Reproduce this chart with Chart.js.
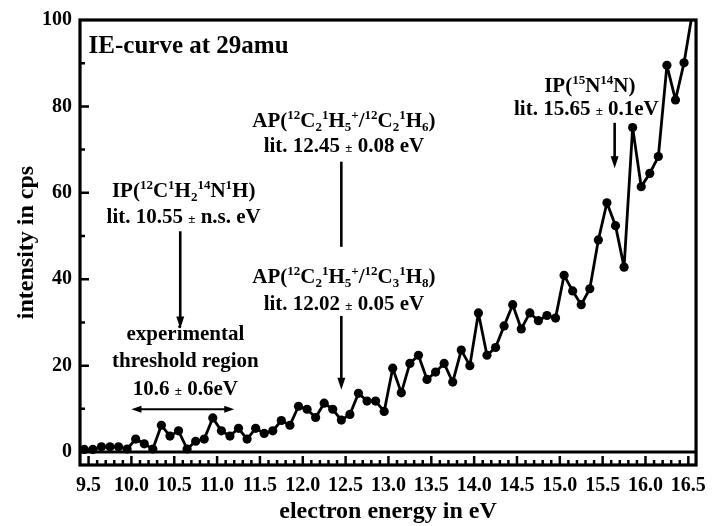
<!DOCTYPE html>
<html>
<head>
<meta charset="utf-8">
<script src="https://cdn.jsdelivr.net/npm/chart.js@4.4.0/dist/chart.umd.min.js"></script>
<style>
  html, body { margin: 0; padding: 0; background: #fff; }
  #wrap { width: 715px; height: 526px; }
</style>
</head>
<body>
<div id="wrap"><canvas id="ieChart" width="715" height="526"></canvas></div>
<script>
const energy = [
  9.45, 9.55, 9.65, 9.75, 9.85, 9.95, 10.05, 10.15, 10.25, 10.35,
  10.45, 10.55, 10.65, 10.75, 10.85, 10.95, 11.05, 11.15, 11.25, 11.35,
  11.45, 11.55, 11.65, 11.75, 11.85, 11.95, 12.05, 12.15, 12.25, 12.35,
  12.45, 12.55, 12.65, 12.75, 12.85, 12.95, 13.05, 13.15, 13.25, 13.35,
  13.45, 13.55, 13.65, 13.75, 13.85, 13.95, 14.05, 14.15, 14.25, 14.35,
  14.45, 14.55, 14.65, 14.75, 14.85, 14.95, 15.05, 15.15, 15.25, 15.35,
  15.45, 15.55, 15.65, 15.75, 15.85, 15.95, 16.05, 16.15, 16.25, 16.35,
  16.45, 16.55
];
const intensity = [
  0.6, 0.6, 1.2, 1.2, 1.2, 0.7, 3.0, 1.9, 0.7, 6.2,
  3.7, 4.9, 0.7, 2.5, 3.0, 7.9, 4.9, 3.7, 5.5, 3.0,
  5.5, 4.3, 4.9, 7.3, 6.2, 10.6, 9.9, 8.0, 11.3, 9.9,
  7.4, 8.7, 13.6, 11.8, 11.8, 9.4, 19.4, 13.7, 20.5, 22.4,
  16.8, 18.5, 20.5, 16.2, 23.6, 20.0, 32.2, 22.4, 24.2, 29.2,
  34.1, 28.5, 32.2, 30.4, 31.6, 31.0, 40.9, 37.3, 34.1, 37.8,
  49.1, 57.7, 52.4, 42.8, 75.1, 61.4, 64.5, 68.4, 89.5, 81.5,
  90.1, 102
];
const xTickLabels = ['9.5', '10.0', '10.5', '11.0', '11.5', '12.0', '12.5', '13.0',
  '13.5', '14.0', '14.5', '15.0', '15.5', '16.0', '16.5'];
const yTickLabels = ['0', '20', '40', '60', '80', '100'];

const FONT = "'Liberation Serif', 'Times New Roman', serif";

// text with ^{sup}, _{sub} and #{small} pieces
function drawRich(ctx, str, x, y, size, align) {
  const parts = [];
  str.replace(/([\^_#])\{([^}]*)\}|([^\^_#]+)/g, function (m, mode, inner, plain) {
    parts.push(plain !== undefined ? [plain, ''] : [inner, mode]);
    return m;
  });
  const big = 'bold ' + size + 'px ' + FONT;
  const small = 'bold ' + Math.round(size * 0.62) + 'px ' + FONT;
  let w = 0;
  parts.forEach(function (p) {
    ctx.font = p[1] ? small : big;
    w += ctx.measureText(p[0]).width;
  });
  let cx = align === 'left' ? x : x - w / 2;
  ctx.textAlign = 'left';
  ctx.textBaseline = 'alphabetic';
  parts.forEach(function (p) {
    ctx.font = p[1] ? small : big;
    let dy = 0;
    if (p[1] === '^') dy = -size * 0.37;
    if (p[1] === '_') dy = size * 0.2;
    ctx.fillText(p[0], cx, y + dy);
    cx += ctx.measureText(p[0]).width;
  });
}

function arrowHead(ctx, x, y, dx, dy, len, half) {
  ctx.beginPath();
  ctx.moveTo(x, y);
  ctx.lineTo(x - dx * len - dy * half, y - dy * len + dx * half);
  ctx.lineTo(x - dx * len + dy * half, y - dy * len - dx * half);
  ctx.closePath();
  ctx.fill();
}

// labels placed in data coordinates (eV, cps)
const notes = [
  { t: 'IE-curve at 29amu', x: 9.5, y: 92.3, size: 25, align: 'left' },
  { t: 'IP(^{12}C^{1}H_{2}^{14}N^{1}H)', x: 10.61, y: 59.1, size: 21 },
  { t: 'lit. 10.55 #{±} n.s. eV', x: 10.61, y: 52.9, size: 21 },
  { t: 'experimental', x: 10.63, y: 25.9, size: 21 },
  { t: 'threshold region', x: 10.63, y: 19.7, size: 21 },
  { t: '10.6 #{±} 0.6eV', x: 10.63, y: 13.2, size: 21 },
  { t: 'AP(^{12}C_{2}^{1}H_{5}^{+}/^{12}C_{2}^{1}H_{6})', x: 12.48, y: 75.3, size: 21 },
  { t: 'lit. 12.45 #{±} 0.08 eV', x: 12.48, y: 69.4, size: 21 },
  { t: 'AP(^{12}C_{2}^{1}H_{5}^{+}/^{12}C_{3}^{1}H_{8})', x: 12.48, y: 39.1, size: 21 },
  { t: 'lit. 12.02 #{±} 0.05 eV', x: 12.48, y: 32.9, size: 21 },
  { t: 'IP(^{15}N^{14}N)', x: 15.35, y: 83.4, size: 21 },
  { t: 'lit. 15.65 #{±} 0.1eV', x: 15.31, y: 78.0, size: 21 }
];
const arrows = [
  { x1: 10.57, y1: 51.1, x2: 10.57, y2: 28.6, head: 'end' },
  { x1: 12.45, y1: 67.2, x2: 12.45, y2: 47.5, head: 'none' },
  { x1: 12.45, y1: 31.5, x2: 12.45, y2: 14.4, head: 'end' },
  { x1: 15.64, y1: 76.2, x2: 15.64, y2: 65.7, head: 'end' },
  { x1: 10.0, y1: 9.9, x2: 11.2, y2: 9.9, head: 'both' }
];

const framePlugin = {
  id: 'frame',
  beforeDatasetsDraw: function (chart) {
    const ctx = chart.ctx, a = chart.chartArea, y = chart.scales.y;
    const y0 = y.getPixelForValue(0);
    ctx.save();
    ctx.strokeStyle = '#000';
    ctx.lineWidth = 3;
    ctx.beginPath();
    ctx.moveTo(a.left, y0);
    ctx.lineTo(a.right, y0);
    ctx.stroke();
    ctx.restore();
  },
  afterDatasetsDraw: function (chart) {
    const ctx = chart.ctx, a = chart.chartArea;
    const xs = chart.scales.x, ys = chart.scales.y;
    ctx.save();
    ctx.strokeStyle = '#000';
    ctx.lineWidth = 2.5;
    ctx.beginPath();
    for (let i = 95; i <= 165; i++) {
      const px = xs.getPixelForValue(i / 10);
      const len = i % 5 === 0 ? 9 : 5;
      ctx.moveTo(px, a.bottom);
      ctx.lineTo(px, a.bottom - len);
    }
    for (let v = 10; v < 100; v += 10) {
      const py = ys.getPixelForValue(v);
      const len = v % 20 === 0 ? 9 : 5;
      ctx.moveTo(a.left, py);
      ctx.lineTo(a.left + len, py);
    }
    ctx.stroke();
    ctx.lineWidth = 3.2;
    ctx.strokeRect(a.left, a.top, a.right - a.left, a.bottom - a.top);
    ctx.restore();
  },
  afterDraw: function (chart) {
    const ctx = chart.ctx, xs = chart.scales.x, ys = chart.scales.y;
    ctx.save();
    ctx.fillStyle = '#000';
    ctx.strokeStyle = '#000';
    notes.forEach(function (n) {
      drawRich(ctx, n.t, xs.getPixelForValue(n.x), ys.getPixelForValue(n.y), n.size, n.align);
    });
    arrows.forEach(function (r) {
      const x1 = xs.getPixelForValue(r.x1), y1 = ys.getPixelForValue(r.y1);
      const x2 = xs.getPixelForValue(r.x2), y2 = ys.getPixelForValue(r.y2);
      const d = Math.hypot(x2 - x1, y2 - y1), dx = (x2 - x1) / d, dy = (y2 - y1) / d;
      const both = r.head === 'both';
      const len = both ? 10 : 12, half = both ? 3.5 : 4;
      ctx.lineWidth = both ? 2 : 2.6;
      ctx.beginPath();
      ctx.moveTo(x1 + (both ? dx * len * 0.6 : 0), y1 + (both ? dy * len * 0.6 : 0));
      ctx.lineTo(x2 - (r.head !== 'none' ? dx * len * 0.6 : 0), y2 - (r.head !== 'none' ? dy * len * 0.6 : 0));
      ctx.stroke();
      if (r.head !== 'none') arrowHead(ctx, x2, y2, dx, dy, len, half);
      if (both) arrowHead(ctx, x1, y1, -dx, -dy, len, half);
    });
    ctx.restore();
  }
};

const ctx = document.getElementById('ieChart').getContext('2d');

new Chart(ctx, {
  type: 'line',
  data: {
    datasets: [{
      label: 'IE-curve at 29amu',
      data: energy.map(function (e, i) { return { x: e, y: intensity[i] }; }),
      borderColor: '#000',
      borderWidth: 2.8,
      borderJoinStyle: 'round',
      backgroundColor: '#000',
      pointBackgroundColor: '#000',
      pointBorderWidth: 0,
      pointRadius: 4.6,
      tension: 0,
      fill: false,
      clip: 0
    }]
  },
  options: {
    responsive: false,
    animation: false,
    layout: { padding: { top: 20, right: 13, bottom: 0, left: 0 } },
    plugins: {
      legend: { display: false },
      tooltip: { enabled: false }
    },
    scales: {
      x: {
        type: 'linear',
        min: 9.4,
        max: 16.59,
        afterFit: function (scale) { scale.height = 61; },
        afterBuildTicks: function (scale) {
          scale.ticks = xTickLabels.map(function (t) { return { value: parseFloat(t) }; });
        },
        grid: { display: false, drawTicks: false },
        border: { display: false },
        ticks: {
          color: '#000',
          padding: 9,
          maxRotation: 0,
          autoSkip: false,
          font: { family: FONT, size: 20, weight: 'bold' },
          callback: function (v, i) { return xTickLabels[i]; }
        },
        title: {
          display: true,
          text: 'electron energy in eV',
          color: '#000',
          padding: { top: 0, bottom: 0 },
          font: { family: FONT, size: 24, weight: 'bold' }
        }
      },
      y: {
        min: -3,
        max: 100,
        afterFit: function (scale) { scale.width = 80; },
        afterBuildTicks: function (scale) {
          scale.ticks = yTickLabels.map(function (t) { return { value: parseFloat(t) }; });
        },
        grid: { display: false, drawTicks: false },
        border: { display: false },
        ticks: {
          color: '#000',
          padding: 8,
          font: { family: FONT, size: 20, weight: 'bold' },
          callback: function (v, i) { return yTickLabels[i]; }
        },
        title: {
          display: true,
          text: 'intensity in cps',
          color: '#000',
          padding: { top: 12, bottom: 0 },
          font: { family: FONT, size: 24, weight: 'bold' }
        }
      }
    }
  },
  plugins: [framePlugin]
});
</script>
</body>
</html>
